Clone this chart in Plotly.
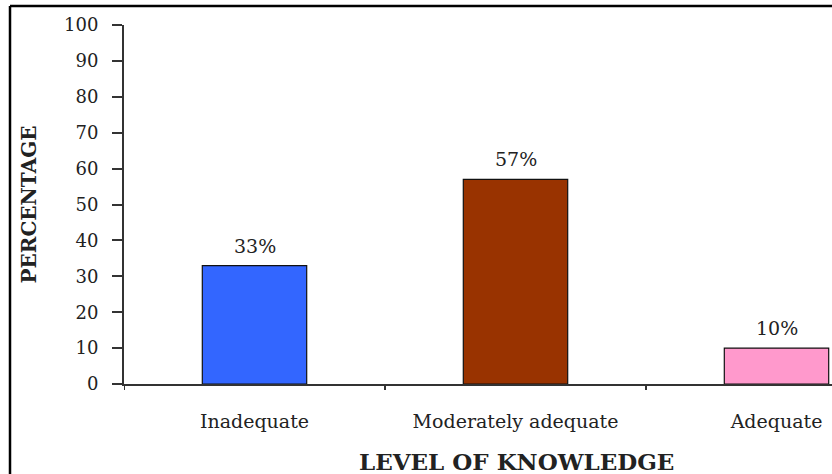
import plotly.graph_objects as go

categories = ["Inadequate", "Moderately adequate", "Adequate"]
percentages = [33, 57, 10]
bar_labels = ["33%", "57%", "10%"]
bar_colors = ["#3366FF", "#993300", "#FF99CC"]
y_ticks = [0, 10, 20, 30, 40, 50, 60, 70, 80, 90, 100]

FONT = "DejaVu Serif"
W, H = 832, 474
ML, MR, MT, MB = 124, 0, 25, 90
PW, PH = W - ML - MR, H - MT - MB

fig = go.Figure()
fig.add_trace(go.Bar(
    x=list(range(len(categories))),
    y=percentages,
    width=0.4,
    marker=dict(color=bar_colors, line=dict(color="#111111", width=1.2)),
    hoverinfo="skip",
))

for i, (v, t) in enumerate(zip(percentages, bar_labels)):
    fig.add_annotation(x=i, y=v, text=t, showarrow=False, xref="x", yref="y",
                       yanchor="bottom", yshift=7,
                       font=dict(family=FONT, size=19, color="#222222"))

# x-axis title (placed as in the cropped original)
fig.add_annotation(x=(516 - ML) / PW, y=-(461 - (MT + PH)) / PH, xref="paper", yref="paper",
                   text="<b>LEVEL OF KNOWLEDGE</b>", showarrow=False,
                   xanchor="center", yanchor="middle",
                   font=dict(family=FONT, size=23, color="#222222"))

# outer frame (left and top edges visible in the crop)
fig.add_shape(type="line", xref="paper", yref="paper",
              x0=(10 - ML) / PW, x1=1.2, y0=1 + (MT - 6) / PH, y1=1 + (MT - 6) / PH,
              line=dict(color="black", width=2.5))
fig.add_shape(type="line", xref="paper", yref="paper",
              x0=(10 - ML) / PW, x1=(10 - ML) / PW, y0=1 + (MT - 6) / PH, y1=-0.5,
              line=dict(color="black", width=2.5))

px_per_cat = 261.0
x_lo = -0.5
x_hi = x_lo + PW / px_per_cat

fig.update_layout(
    width=W, height=H,
    margin=dict(l=ML, r=MR, t=MT, b=MB, pad=0),
    paper_bgcolor="white", plot_bgcolor="white",
    showlegend=False,
    bargap=0.6,
    xaxis=dict(
        range=[x_lo, x_hi],
        tickmode="array",
        tickvals=list(range(len(categories))),
        ticktext=categories,
        showgrid=False, zeroline=False,
        showline=True, linecolor="#333333", linewidth=2,
        ticks="", ticklabelstandoff=19,
        tickfont=dict(family=FONT, size=19, color="#222222"),
    ),
    yaxis=dict(
        range=[0, 100],
        tickmode="array", tickvals=y_ticks,
        showgrid=False, zeroline=False,
        showline=True, linecolor="#333333", linewidth=2,
        ticks="outside", ticklen=10, tickwidth=2, tickcolor="#333333",
        ticklabelstandoff=10,
        tickfont=dict(family=FONT, size=18, color="#222222"),
        title=dict(text="<b>PERCENTAGE</b>", standoff=22,
                   font=dict(family=FONT, size=20, color="#222222")),
    ),
)

# boundary tick marks on the x-axis (between categories), drawn from the axis scale
boundaries = [b - 0.5 for b in range(len(categories) + 1)]
for b in boundaries:
    if x_lo <= b <= x_hi:
        fig.add_shape(type="line", xref="x", yref="paper", x0=b, x1=b, y0=0, y1=-6 / PH,
                      line=dict(color="#333333", width=2))

fig.write_html("out.html")
